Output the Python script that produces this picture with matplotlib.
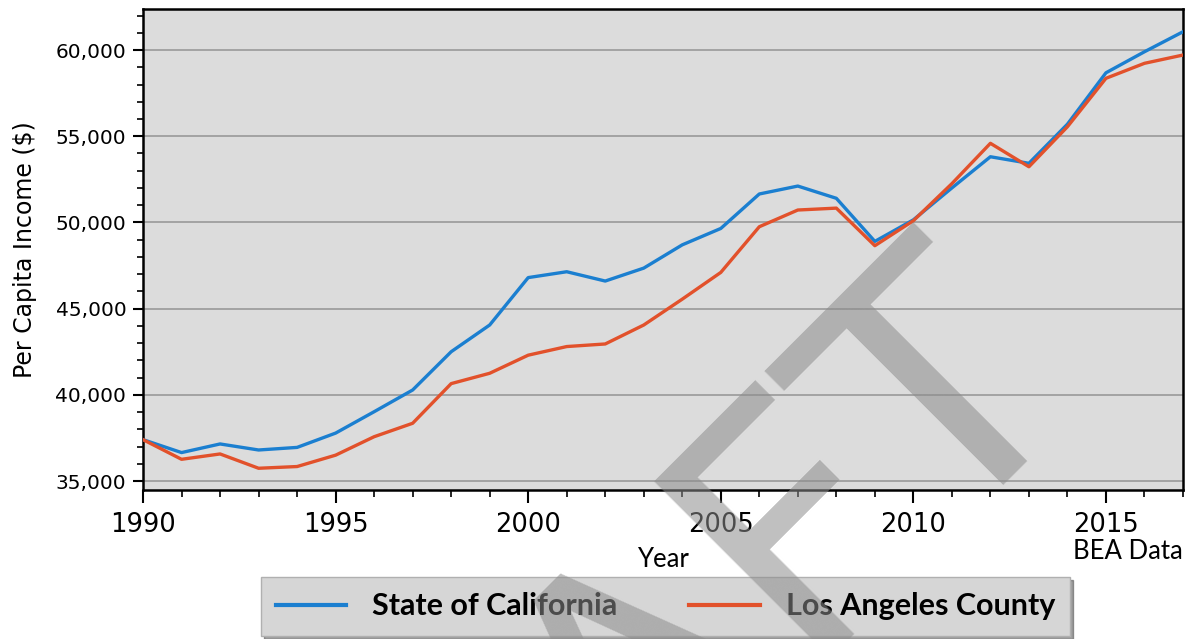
import matplotlib
matplotlib.use("Agg")
import matplotlib.pyplot as plt
from matplotlib.ticker import MultipleLocator, FuncFormatter

years = list(range(1990, 2018))
california = [37400, 36650, 37150, 36800, 36950, 37780, 39020, 40280, 42500,
              44050, 46800, 47140, 46600, 47350, 48700, 49650, 51650, 52110,
              51400, 48900, 50150, 52000, 53810, 53430, 55700, 58680, 59900,
              61060]
los_angeles = [37400, 36260, 36570, 35740, 35840, 36500, 37570, 38350, 40650,
               41250, 42300, 42800, 42950, 44050, 45550, 47100, 49750, 50720,
               50830, 48650, 50100, 52250, 54590, 53230, 55550, 58360, 59230,
               59710]
series_names = ["State of California", "Los Angeles County"]
source_note = "BEA Data"

BLUE = "#1b7fd0"
RED = "#e2512b"
LABEL_FONT = ["Lato", "DejaVu Sans"]

fig = plt.figure(figsize=(11.9, 6.39), dpi=100)
ax = fig.add_axes([0.1202, 0.2332, 0.8739, 0.7527])
ax.set_facecolor("#dcdcdc")

ax.plot(years, california, color=BLUE, lw=2.4, label=series_names[0], zorder=3)
ax.plot(years, los_angeles, color=RED, lw=2.4, label=series_names[1], zorder=3)

ax.set_xlim(1990, 2017)
ax.set_ylim(34480, 62380)
ax.xaxis.set_major_locator(MultipleLocator(5))
ax.xaxis.set_minor_locator(MultipleLocator(1))
ax.yaxis.set_major_locator(MultipleLocator(5000))
ax.yaxis.set_minor_locator(MultipleLocator(1000))
ax.yaxis.set_major_formatter(FuncFormatter(lambda v, _: f"{int(v):,}"))

ax.grid(axis="y", which="major", color="#a3a3a3", lw=1.4, zorder=1)
ax.set_axisbelow(True)
for sp in ax.spines.values():
    sp.set_linewidth(1.8)
    sp.set_color("black")

ax.tick_params(axis="x", which="major", length=9, width=1.5, labelsize=18.5, pad=7)
ax.tick_params(axis="x", which="minor", length=5, width=1.2)
ax.tick_params(axis="y", which="major", length=7, width=1.5, labelsize=14.5, pad=5)
ax.tick_params(axis="y", which="minor", length=4, width=1.2)

ax.set_ylabel("Per Capita Income ($)", fontsize=17)
ax.yaxis.set_label_coords(-0.102, 0.5)
ax.set_xlabel("Year", fontsize=18.5, family=LABEL_FONT)
ax.xaxis.set_label_coords(0.5, -0.118)
ax.text(1.0, -0.127, source_note, transform=ax.transAxes, ha="right",
        va="center", fontsize=18.5, family=LABEL_FONT)

leg = fig.legend(loc="center", bbox_to_anchor=(0.5593, 0.0509), ncol=2,
                 frameon=True, shadow=True, fancybox=False,
                 prop={"family": LABEL_FONT, "weight": "bold", "size": 22},
                 handlelength=2.3, handletextpad=0.85, columnspacing=2.35,
                 borderpad=0.5, framealpha=1)
leg.get_frame().set_facecolor("#d6d6d6")
leg.get_frame().set_edgecolor("#b0b0b0")
for line in leg.get_lines():
    line.set_linewidth(3)

# watermark stamp across the figure
fig.text(0.907, 0.414, "DRAFT", rotation=45, rotation_mode="anchor",
         ha="right", va="baseline", fontsize=246, color="#8c8c8c", alpha=0.55,
         zorder=10)

fig.savefig("out.png", dpi=100)
